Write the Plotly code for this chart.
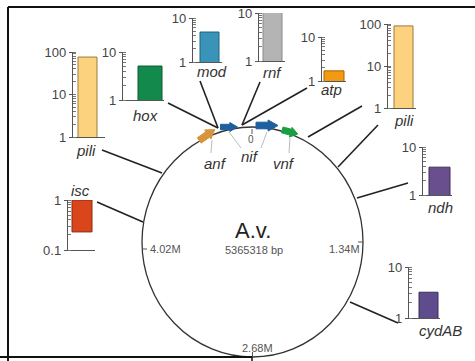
import math
import plotly.graph_objects as go

# ---------------- data ----------------
genes = ["pili", "hox", "mod", "rnf", "atp", "pili", "ndh", "cydAB", "isc"]
values = [76, 5.1, 4.8, 10.5, 1.7, 90, 3.8, 3.2, 0.23]
axis_min = [1, 1, 1, 1, 1, 1, 1, 1, 0.1]
axis_max = [100, 10, 10, 10, 10, 100, 10, 10, 1]
bar_colors = ["#fdd27e", "#138a4c", "#3a94ba", "#b4b4b4", "#f39a12",
              "#fdd27e", "#6a4f8e", "#5f4c8c", "#d9461b"]
bar_edges = ["#9a7a3a", "#0c5a30", "#22607a", "#8a8a8a", "#a86400",
             "#9a7a3a", "#3e2c58", "#3a2c5a", "#8a2a0e"]
genome_label = "A.v."
genome_size = "5365318 bp"
circle_ticks = ["0", "1.34M", "2.68M", "4.02M"]
locus_labels = ["anf", "nif", "vnf"]

# ---------------- layout (pixel positions) ----------------
W, H = 475, 361
# axis_left, axis_right, top, bottom, bar_left, bar_right, label_x, label_y
insets = [
    (73, 105, 52, 137, 78, 97, 86, 150),
    (123, 164, 52, 100, 138, 162, 145, 115),
    (193, 222, 18, 62, 200, 219, 212, 71),
    (259, 285, 13, 61, 263, 282, 272, 72),
    (322, 346, 37, 81, 324, 344, 331, 89),
    (388, 416, 24, 108, 394, 413, 404, 120),
    (423, 452, 147, 195, 429, 450, 440, 207),
    (409, 440, 267, 318, 419, 438, 440, 330),
    (68, 95, 200, 250, 72, 92, 80, 190),
]

fig = go.Figure()
layout = dict(
    template="none",
    width=W, height=H,
    margin=dict(l=0, r=0, t=0, b=0, pad=0, autoexpand=False),
    paper_bgcolor="white", plot_bgcolor="rgba(0,0,0,0)",
    showlegend=False,
    xaxis=dict(range=[0, W], visible=False, domain=[0, 1], fixedrange=True,
               automargin=False),
    yaxis=dict(range=[H, 0], visible=False, domain=[0, 1], fixedrange=True,
               automargin=False),
    font=dict(family="Liberation Sans, Arial, sans-serif", color="#333"),
)

# invisible trace to anchor main axes
fig.add_trace(go.Scatter(x=[0, W], y=[0, H], mode="markers",
                         marker=dict(opacity=0), hoverinfo="skip"))

annotations = []
for i, (g, v, lo, hi, c, ec, pos) in enumerate(zip(genes, values, axis_min, axis_max,
                                                   bar_colors, bar_edges, insets)):
    k = i + 2
    al, ar, top, bot, bl, br, lx, ly = pos
    span = ar - al
    xc = ((bl + br) / 2 - al) / span
    wd = (br - bl) / span
    if v < 1:
        bar = go.Bar(x=[xc], y=[v - 1], base=[1], width=[wd],
                     marker=dict(color=c, line=dict(color=ec, width=1)),
                     xaxis=f"x{k}", yaxis=f"y{k}", hoverinfo="skip")
    else:
        bar = go.Bar(x=[xc], y=[v], width=[wd],
                     marker=dict(color=c, line=dict(color=ec, width=1)),
                     xaxis=f"x{k}", yaxis=f"y{k}", hoverinfo="skip")
    fig.add_trace(bar)
    tv = [t for t in [0.1, 1, 10, 100] if lo <= t <= hi]
    tt = [("0.1" if t == 0.1 else str(int(t))) for t in tv]
    layout[f"xaxis{k}"] = dict(domain=[al / W, ar / W], range=[0, 1], anchor=f"y{k}",
                               showline=True, linecolor="#555", linewidth=1.2,
                               showticklabels=False, ticks="", showgrid=False,
                               zeroline=False, fixedrange=True, automargin=False)
    layout[f"yaxis{k}"] = dict(domain=[1 - bot / H, 1 - top / H], type="log",
                               range=[math.log10(lo), math.log10(hi)],
                               anchor=f"x{k}", showline=True, linecolor="#555",
                               linewidth=1.2, ticks="outside", ticklen=3,
                               tickcolor="#555", tickvals=tv, ticktext=tt,
                               tickfont=dict(size=13, color="#444"),
                               showgrid=False, zeroline=False, fixedrange=True,
                               automargin=False,
                               minor=dict(ticks="inside", ticklen=3, tickcolor="#777",
                                          dtick="D1", showgrid=False))
    annotations.append(dict(x=lx, y=ly, xref="x", yref="y", text=f"<i>{g}</i>",
                            showarrow=False, font=dict(size=15, color="#333")))

# circle
cx, cy, rx, ry = 252.5, 242, 110.5, 115
shapes = [dict(type="circle", xref="x", yref="y", x0=cx - rx, x1=cx + rx,
               y0=cy - ry, y1=cy + ry, line=dict(color="#333", width=1.3))]

def line(x0, y0, x1, y1, color="#222", width=1.6):
    shapes.append(dict(type="line", xref="x", yref="y", x0=x0, y0=y0, x1=x1, y1=y1,
                       line=dict(color=color, width=width)))

# connectors
line(102, 150, 162, 173)
line(168, 103, 218, 128)
line(200, 81, 218, 128)
line(260, 82, 242, 125)
line(307, 88, 242, 125)
line(362, 106, 308, 137)
line(378, 125, 338, 167)
line(357, 198, 408, 183)
line(350, 302, 398, 323)
line(97, 202, 143, 222)

# circle ticks
line(252, 129, 252, 134, color="#555", width=1)
line(363, 242, 358, 242, color="#555", width=1)
line(252.5, 357, 252.5, 352, color="#555", width=1)
line(142, 249, 147, 249, color="#555", width=1)

# label pointer lines
line(211, 153, 212, 140, color="#aaa", width=0.8)
line(241, 148, 229, 132, color="#aaa", width=0.8)
line(261, 148, 267, 132, color="#aaa", width=0.8)
line(289, 153, 290, 138, color="#aaa", width=0.8)

def arrow(xc, yc, length, height, angle_deg, color):
    a = math.radians(angle_deg)
    ux, uy = math.cos(a), math.sin(a)
    nx, ny = -uy, ux
    hl = length * 0.45
    pts = [(-length / 2, -height * 0.3), (length / 2 - hl, -height * 0.3),
           (length / 2 - hl, -height / 2), (length / 2, 0),
           (length / 2 - hl, height / 2), (length / 2 - hl, height * 0.3),
           (-length / 2, height * 0.3)]
    P = [(xc + px * ux + py * nx, yc + px * uy + py * ny) for px, py in pts]
    path = "M " + " L ".join(f"{x:.2f},{y:.2f}" for x, y in P) + " Z"
    shapes.append(dict(type="path", xref="x", yref="y", path=path,
                       fillcolor=color, line=dict(color=color, width=1)))

arrow(207, 135, 19, 11, -35, "#d8943c")
arrow(229, 127, 17, 9, 0, "#1d5f9f")
arrow(267, 125.5, 22, 11, 0, "#1d5f9f")
arrow(290, 132, 16, 10, 15, "#1a9e42")

# frame
line(8, 7, 475, 7, color="#111", width=2)
line(8, 7, 8, 361, color="#111", width=2)
line(0, 357, 252, 357, color="#111", width=2)
line(252, 357, 252, 361, color="#111", width=1.5)

# texts
annotations += [
    dict(x=253, y=230, text=genome_label, font=dict(size=22, color="#222")),
    dict(x=254, y=250, text=genome_size, font=dict(size=11, color="#555")),
    dict(x=251, y=139, text=circle_ticks[0], font=dict(size=10, color="#555")),
    dict(x=344, y=249, text=circle_ticks[1], font=dict(size=11, color="#555")),
    dict(x=257, y=348, text=circle_ticks[2], font=dict(size=11, color="#555")),
    dict(x=165, y=249, text=circle_ticks[3], font=dict(size=11, color="#555")),
    dict(x=215, y=163, text=f"<i>{locus_labels[0]}</i>", font=dict(size=15, color="#333")),
    dict(x=250, y=156, text=f"<i>{locus_labels[1]}</i>", font=dict(size=15, color="#333")),
    dict(x=284, y=163, text=f"<i>{locus_labels[2]}</i>", font=dict(size=15, color="#333")),
]
for a in annotations:
    a.setdefault("xref", "x")
    a.setdefault("yref", "y")
    a.setdefault("showarrow", False)

layout["shapes"] = shapes
layout["annotations"] = annotations
layout["bargap"] = 0
fig.update_layout(**layout)
fig.write_html("out.html", config={"displayModeBar": False, "staticPlot": True},
               post_script="document.body.style.margin='0';document.body.style.padding='0';")
